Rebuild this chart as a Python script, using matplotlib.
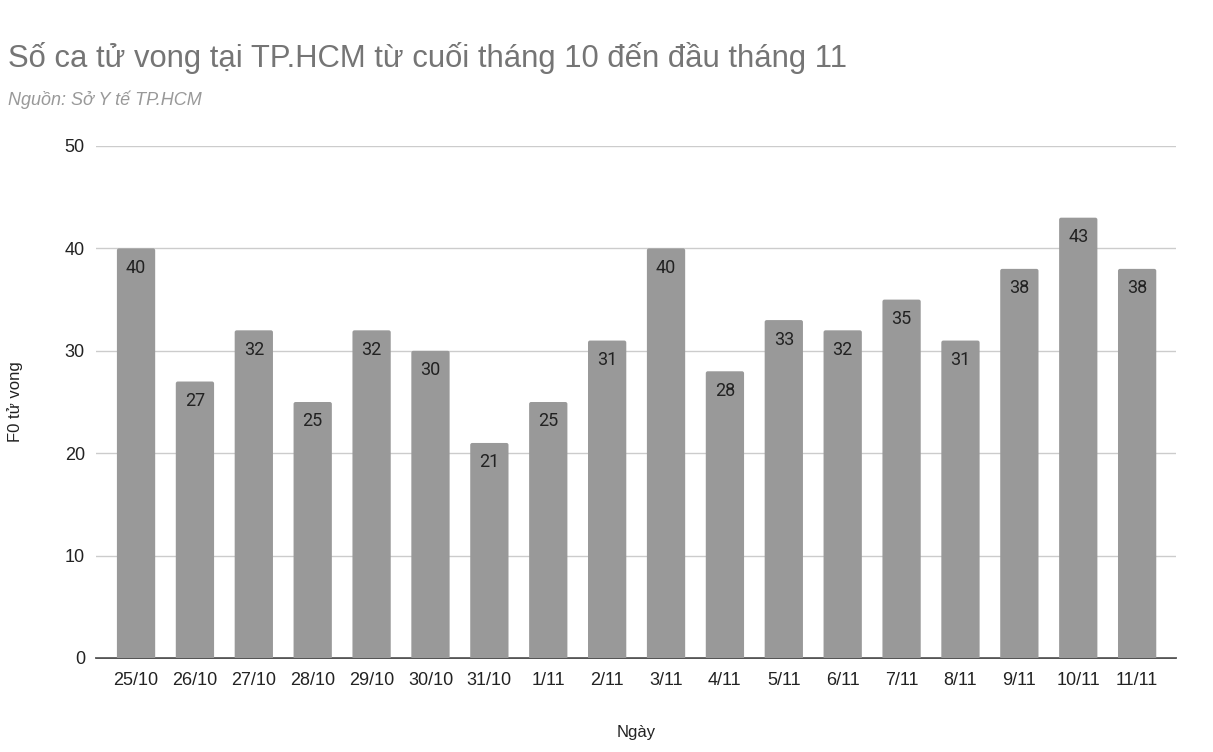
import matplotlib.pyplot as plt
from matplotlib.patches import FancyBboxPatch

ngay = ['25/10', '26/10', '27/10', '28/10', '29/10', '30/10', '31/10', '1/11', '2/11',
        '3/11', '4/11', '5/11', '6/11', '7/11', '8/11', '9/11', '10/11', '11/11']
tu_vong = [40, 27, 32, 25, 32, 30, 21, 25, 31, 40, 28, 33, 32, 35, 31, 38, 43, 38]
yticks = [0, 10, 20, 30, 40, 50]

plt.rcParams['font.family'] = ['Liberation Sans', 'DejaVu Sans']

fig = plt.figure(figsize=(12.13, 7.52), dpi=100)
ax = fig.add_axes([96 / 1213, 1 - 658 / 752, 1080 / 1213, 512 / 752])

ax.set_xlim(-0.68, len(ngay) - 1 + 0.66)
ax.set_ylim(0, 50)

x = range(len(ngay))
bars = ax.bar(x, tu_vong, width=0.65, color='#999999', zorder=2)
# rounded corners (about 2 px)
xpp = (ax.get_xlim()[1] - ax.get_xlim()[0]) / 1080
ypp = 50 / 512
for b, v in zip(bars, tu_vong):
    b.set_visible(False)
    p = FancyBboxPatch((b.get_x(), -1), b.get_width(), v + 1,
                       boxstyle='round,pad=0,rounding_size=%f' % (2 * xpp),
                       mutation_aspect=ypp / xpp, facecolor='#999999',
                       edgecolor='none', zorder=2)
    ax.add_patch(p)
    ax.annotate(str(v), (b.get_x() + b.get_width() / 2, v), xytext=(0, -14),
                textcoords='offset points', ha='center', va='center',
                fontsize=13, color='#222222', family=['Roboto', 'DejaVu Sans'])

ax.set_yticks(yticks)
ax.set_xticks(list(x))
ax.set_xticklabels(ngay)
ax.grid(axis='y', color='#cccccc', linewidth=1, zorder=0)
for s in ['top', 'right', 'left']:
    ax.spines[s].set_visible(False)
ax.spines['bottom'].set_color('#333333')
ax.spines['bottom'].set_linewidth(1.2)
ax.spines['bottom'].set_zorder(1)
ax.tick_params(axis='both', length=0, labelsize=13, labelcolor='#222222')
ax.tick_params(axis='y', pad=8)
ax.tick_params(axis='x', pad=10)

ax.set_xlabel('Ngày', fontsize=12, color='#222222', labelpad=26)
ax.set_ylabel('F0 tử vong', fontsize=12, color='#222222', labelpad=30)

fig.text(8 / 1213, 1 - 58 / 752, 'Số ca tử vong tại TP.HCM từ cuối tháng 10 đến đầu tháng 11',
         fontsize=22.3, color='#757575', va='center', ha='left')
fig.text(8 / 1213, 1 - 100 / 752, 'Nguồn: Sở Y tế TP.HCM', fontsize=13,
         color='#999999', style='italic', va='center', ha='left')

fig.savefig('out.png', dpi=100)
